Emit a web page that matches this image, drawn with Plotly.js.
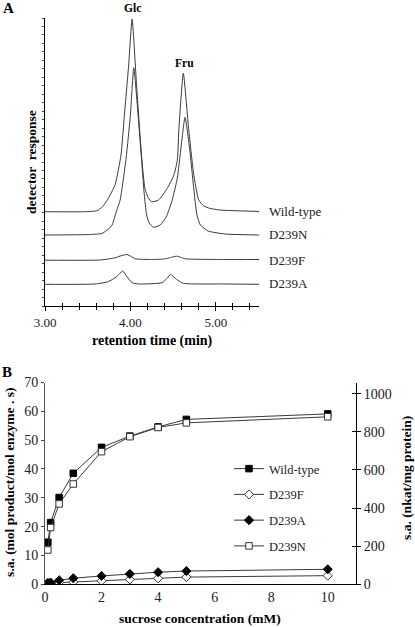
<!DOCTYPE html>
<html>
<head>
<meta charset="utf-8">
<script src="https://cdn.plot.ly/plotly-3.0.1.min.js"></script>
<style>html,body{margin:0;padding:0;background:#fff;}#chart{width:415px;height:627px;}</style>
</head>
<body>
<div id="chart"></div>
<script>
// ---------- Panel A: chromatograms (retention time in min, detector response in arbitrary units) ----------
const timeWT = [3.00,3.47,3.61,3.67,3.73,3.82,3.89,3.93,3.98,4.02,4.07,4.11,4.14,4.17,4.21,4.25,4.33,4.43,4.51,4.55,4.57,4.62,4.68,4.74,4.80,4.86,4.93,5.05,5.51];
const respWT = [11.13,11.13,11.25,11.69,12.51,14.29,17.83,22.55,28.45,33.88,26.48,20.58,16.65,13.90,12.75,12.31,12.51,13.87,15.47,17.24,21.17,27.47,21.17,15.67,12.51,11.81,11.53,11.33,11.16];

const timeD239N = [3.00,3.53,3.67,3.78,3.83,3.88,3.95,4.00,4.04,4.09,4.13,4.16,4.19,4.22,4.27,4.35,4.42,4.49,4.55,4.59,4.64,4.70,4.74,4.78,4.82,4.91,5.11,5.51];
const respD239N = [8.38,8.44,8.58,9.45,10.98,12.51,17.44,22.55,28.13,22.55,17.44,13.49,10.74,9.80,9.29,9.56,10.51,12.51,15.11,18.42,22.28,18.03,14.09,10.74,9.56,8.85,8.50,8.38];

const timeD239F = [3.00,3.65,3.82,3.88,3.96,4.01,4.06,4.25,4.41,4.47,4.54,4.60,4.64,5.11,5.51];
const respD239F = [5.41,5.43,5.69,5.90,6.08,5.84,5.57,5.49,5.57,5.72,5.88,5.72,5.57,5.49,5.49];

const timeD239A = [3.00,3.59,3.74,3.84,3.91,3.96,4.02,4.09,4.37,4.43,4.47,4.54,4.62,5.11,5.51];
const respD239A = [2.56,2.60,2.87,3.46,4.13,3.46,2.75,2.60,2.75,3.27,3.74,3.15,2.68,2.60,2.56];

const chromLabels = ['Wild-type','D239N','D239F','D239A'];
const chromLabelLevels = [11.2, 8.4, 5.4, 2.65];
const peakNames = ['Glc','Fru'];
const peakTimes = [4.02, 4.63];
const timeTicks = [3, 4, 5];

// ---------- Panel B: kinetics ----------
const sucrose = [0.1,0.2,0.5,1,2,3,4,5,10];
const saWT    = [14.6,21.4,30.1,38.5,47.5,51.4,54.6,57.2,59.1];
const saD239F = [0.2,0.3,0.6,0.8,1.25,1.7,2.1,2.5,3.0];
const saD239A = [0.5,0.6,1.4,2.1,2.9,3.6,4.2,4.6,5.2];
const saD239N = [11.9,19.7,27.9,34.8,46.0,51.2,54.4,56.0,58.1];
const seriesNames = ['Wild-type','D239F','D239A','D239N'];

const W = 415, H = 627;
const px = v => v / W;
const py = v => (H - v) / H;
const serif = "'Liberation Serif', 'Times New Roman', Times, serif";
const ink = '#222';
const lineCol = '#3a3a3a';

const traces = [];
const chromX = [timeWT, timeD239N, timeD239F, timeD239A];
const chromY = [respWT, respD239N, respD239F, respD239A];
for (let i = 0; i < 4; i++) {
  traces.push({x: chromX[i], y: chromY[i], xaxis: 'x', yaxis: 'y', type: 'scatter', mode: 'lines',
    line: {color: lineCol, width: 1, shape: 'spline', smoothing: 0.5}, showlegend: false, hoverinfo: 'skip'});
}
const bY = [saWT, saD239F, saD239A, saD239N];
const bMarkers = [
  {symbol: 'square', size: 6.5, color: '#000', line: {color: '#000', width: 1}},
  {symbol: 'diamond', size: 7, color: '#fff', line: {color: '#333', width: 1}},
  {symbol: 'diamond', size: 7, color: '#000', line: {color: '#000', width: 1}},
  {symbol: 'square', size: 6.5, color: '#fff', line: {color: '#333', width: 1}}
];
for (let i = 0; i < 4; i++) {
  traces.push({x: sucrose, y: bY[i], xaxis: 'x2', yaxis: 'y2', type: 'scatter', mode: 'lines+markers',
    name: seriesNames[i], legendgroup: 'g' + i,
    line: {color: lineCol, width: 1}, marker: bMarkers[i]});
}

const annotations = [];
// panel letters
annotations.push({text: '<b>A</b>', x: px(8), y: py(8), xref: 'paper', yref: 'paper', showarrow: false,
  font: {family: serif, size: 15, color: '#000'}, xanchor: 'center', yanchor: 'middle'});
annotations.push({text: '<b>B</b>', x: px(7), y: py(372), xref: 'paper', yref: 'paper', showarrow: false,
  font: {family: serif, size: 15, color: '#000'}, xanchor: 'center', yanchor: 'middle'});
// peak names
const peakLabelY = [7.5, 63.5];
for (let i = 0; i < 2; i++) {
  annotations.push({text: '<b>' + peakNames[i] + '</b>', x: peakTimes[i], y: py(peakLabelY[i]), xref: 'x', yref: 'paper',
    showarrow: false, font: {family: serif, size: 11.5, color: '#000'}, xanchor: 'center', yanchor: 'middle'});
}
// chromatogram labels
for (let i = 0; i < 4; i++) {
  annotations.push({text: chromLabels[i], x: px(267), y: chromLabelLevels[i], xref: 'paper', yref: 'y',
    showarrow: false, font: {family: serif, size: 13, color: ink}, xanchor: 'left', yanchor: 'middle'});
}
// axis titles
annotations.push({text: '<b>detector  response</b>', x: px(31), y: py(162), xref: 'paper', yref: 'paper',
  showarrow: false, textangle: -90, font: {family: serif, size: 13.5, color: '#000'}, xanchor: 'center', yanchor: 'middle'});
annotations.push({text: '<b>retention time (min)</b>', x: px(152), y: py(341), xref: 'paper', yref: 'paper',
  showarrow: false, font: {family: serif, size: 14, color: '#000'}, xanchor: 'center', yanchor: 'middle'});
annotations.push({text: '<b>s.a. (mol product/mol enzyme . s)</b>', x: px(9), y: py(483), xref: 'paper', yref: 'paper',
  showarrow: false, textangle: -90, font: {family: serif, size: 13.5, color: '#000'}, xanchor: 'center', yanchor: 'middle'});
annotations.push({text: '<b>s.a. (nkat/mg protein)</b>', x: px(406), y: py(478), xref: 'paper', yref: 'paper',
  showarrow: false, textangle: -90, font: {family: serif, size: 13.5, color: '#000'}, xanchor: 'center', yanchor: 'middle'});
annotations.push({text: '<b>sucrose concentration (mM)</b>', x: px(200), y: py(618), xref: 'paper', yref: 'paper',
  showarrow: false, font: {family: serif, size: 13.5, color: '#000'}, xanchor: 'center', yanchor: 'middle'});

const domAx = [px(45), px(259.3)];
const domAy = [py(306), py(18)];
const domBx = [px(45), px(356)];
const domBy = [py(584.3), py(382.5)];

const layout = {
  width: W, height: H,
  margin: {l: 0, r: 0, t: 0, b: 0},
  paper_bgcolor: '#fff', plot_bgcolor: 'rgba(0,0,0,0)',
  font: {family: serif, color: ink},
  showlegend: true,
  legend: {x: px(229), y: py(454), xanchor: 'left', yanchor: 'top', bgcolor: 'rgba(0,0,0,0)',
    font: {family: serif, size: 12.5, color: ink}, tracegroupgap: 6.5, itemwidth: 30},
  xaxis: {domain: domAx, anchor: 'y', range: [3, 5.51], showgrid: false, zeroline: false,
    showline: true, linecolor: '#000', linewidth: 1,
    tickmode: 'array', tickvals: timeTicks, ticktext: timeTicks.map(v => v.toFixed(2)),
    ticks: 'outside', ticklen: 4, tickcolor: '#000', tickwidth: 1,
    minor: {dtick: 0.2, tick0: 3, ticks: 'outside', ticklen: 3, tickcolor: '#000', showgrid: false},
    tickfont: {family: serif, size: 13, color: ink}},
  xaxis3: {domain: domAx, anchor: 'y', overlaying: 'x', range: [3, 5.51], showgrid: false, zeroline: false,
    showline: false, showticklabels: false,
    tickmode: 'array', tickvals: timeTicks,
    ticks: 'inside', ticklen: 4, tickcolor: '#000', tickwidth: 1,
    minor: {dtick: 0.2, tick0: 3, ticks: 'inside', ticklen: 3, tickcolor: '#000', showgrid: false}},
  yaxis: {domain: domAy, anchor: 'x', range: [0, 34], showgrid: false, zeroline: false,
    showline: true, linecolor: '#000', linewidth: 1,
    tickmode: 'linear', tick0: 0, dtick: 1, ticks: 'outside', ticklen: 2, tickcolor: '#444',
    showticklabels: false},
  xaxis2: {domain: domBx, anchor: 'y2', range: [0, 11], showgrid: false, zeroline: false,
    showline: true, linecolor: '#000', linewidth: 1,
    tickmode: 'array', tickvals: [0,2,4,6,8,10], ticks: '',
    tickfont: {family: serif, size: 14, color: ink}},
  yaxis2: {domain: domBy, anchor: 'x2', range: [0, 70], showgrid: false, zeroline: false,
    showline: true, linecolor: '#555', linewidth: 1,
    tickmode: 'linear', tick0: 0, dtick: 10, ticks: 'outside', ticklen: 3, tickcolor: '#444',
    tickfont: {family: serif, size: 14, color: ink}},
  yaxis3: {domain: domBy, anchor: 'x2', overlaying: 'y2', side: 'right', range: [0, 1059],
    showgrid: false, zeroline: false, showline: true, linecolor: '#000', linewidth: 1,
    tickmode: 'linear', tick0: 0, dtick: 200, ticks: 'outside', ticklen: 4, tickcolor: '#000',
    tickfont: {family: serif, size: 14, color: ink}},
  yaxis4: {domain: domBy, anchor: 'x2', overlaying: 'y2', side: 'right', range: [0, 1059],
    showgrid: false, zeroline: false, showline: false, showticklabels: false,
    tickmode: 'linear', tick0: 0, dtick: 200, ticks: 'inside', ticklen: 4, tickcolor: '#000'},
  annotations: annotations
};

// invisible anchor points so the overlay tick axes get drawn
traces.push({x: [3], y: [0], xaxis: 'x3', yaxis: 'y', mode: 'markers', marker: {opacity: 0}, showlegend: false, hoverinfo: 'skip'});
traces.push({x: [0], y: [0], xaxis: 'x2', yaxis: 'y3', mode: 'markers', marker: {opacity: 0}, showlegend: false, hoverinfo: 'skip'});
traces.push({x: [0], y: [0], xaxis: 'x2', yaxis: 'y4', mode: 'markers', marker: {opacity: 0}, showlegend: false, hoverinfo: 'skip'});

Plotly.newPlot('chart', traces, layout, {staticPlot: true, displayModeBar: false});
</script>
</body>
</html>
